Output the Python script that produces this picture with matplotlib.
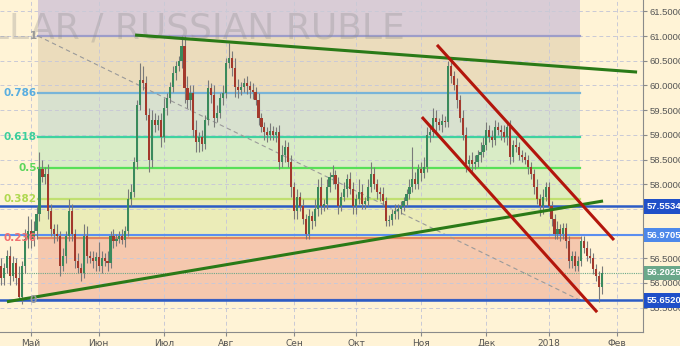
import numpy as np
import pandas as pd
import matplotlib
matplotlib.use('Agg')
import matplotlib.pyplot as plt
import matplotlib.transforms as mtransforms

# daily closes, USD/RUB (Apr 17 2017 .. Jan 25 2018, business days)
first_open = 56.35
closes = [
    56.10, 56.30, 56.55, 56.15, 56.40, 56.10, 55.72, 56.35, 56.90, 57.05,
    56.90, 57.05, 57.40, 58.30, 58.15, 58.20, 57.45, 57.10, 57.00, 56.95,
    56.35, 56.55, 56.95, 57.45, 57.00, 56.45, 56.30, 56.20, 56.95, 56.55,
    56.50, 56.45, 56.52, 56.35, 56.50, 56.45, 56.40, 56.95, 56.85, 56.90,
    56.95, 56.88, 57.05, 57.70, 57.85, 58.45, 59.60, 60.10, 60.05, 59.40,
    58.50, 59.30, 59.20, 59.30, 58.95, 59.55, 59.75, 59.97, 60.25, 60.40,
    60.50, 60.80, 59.95, 59.70, 59.85, 59.10, 58.85, 58.95, 58.82, 59.30,
    59.95, 59.80, 59.35, 59.45, 59.75, 59.85, 60.45, 60.55, 60.35, 59.97,
    59.90, 59.97, 60.05, 59.98, 59.90, 59.87, 59.70, 59.35, 59.15, 59.05,
    59.00, 59.08, 59.00, 59.05, 58.45, 58.60, 58.75, 58.45, 57.95, 57.45,
    57.75, 57.55, 57.30, 57.00, 57.35, 57.25, 57.50, 57.95, 57.55, 57.60,
    57.95, 58.15, 58.18, 58.00, 57.55, 57.75, 57.90, 58.10, 57.90, 57.55,
    57.70, 57.85, 57.60, 57.65, 57.95, 58.20, 58.00, 57.85, 57.80, 57.65,
    57.25, 57.28, 57.40, 57.45, 57.50, 57.55, 57.65, 57.80, 57.95, 58.10,
    58.00, 58.30, 58.22, 58.35, 59.00, 59.05, 59.35, 59.25, 59.20, 59.28,
    59.25, 60.40, 60.20, 60.00, 59.70, 59.35, 59.00, 58.40, 58.50, 58.40,
    58.45, 58.60, 58.65, 58.80, 59.10, 58.95, 58.90, 59.15, 59.10, 59.05,
    58.95, 59.15, 58.55, 58.80, 58.75, 58.60, 58.55, 58.50, 58.35, 58.20,
    57.95, 57.70, 57.55, 57.75, 57.95, 57.55, 57.30, 57.00, 57.10, 57.00,
    57.12, 56.85, 56.45, 56.55, 56.35, 56.45, 56.85, 56.70, 56.55, 56.50,
    56.28, 56.15, 55.92, 56.2025,
]
up_wick = [
    .15, .10, .12, .20, .15, .10, .25, .10, .20, .30,
    .25, .20, .15, .35, .20, .15, .20, .15, .10, .20,
    .10, .15, .10, .25, .15, .10, .15, .10, .25, .20,
    .10, .15, .10, .30, .15, .10, .20, .10, .15, .10,
    .10, .15, .10, .20, .15, .10, .10, .35, .30, .15,
    .15, .20, .15, .10, .15, .20, .10, .10, .15, .10,
    .10, .20, .20, .25, .15, .15, .20, .10, .15, .10,
    .15, .10, .20, .15, .10, .15, .10, .30, .15, .20,
    .15, .10, .10, .15, .10, .15, .10, .15, .10, .10,
    .10, .15, .10, .10, .15, .20, .15, .10, .15, .10,
    .15, .10, .15, .10, .15, .10, .20, .15, .20, .10,
    .15, .10, .20, .10, .15, .10, .15, .10, .15, .15,
    .10, .25, .15, .10, .15, .25, .15, .10, .10, .15,
    .10, .10, .10, .15, .10, .10, .10, .10, .15, .65,
    .15, .10, .15, .20, .15, .10, .20, .15, .10, .15,
    .10, .10, .10, .10, .15, .10, .15, .15, .10, .15,
    .15, .10, .20, .15, .15, .10, .15, .15, .10, .10,
    .15, .10, .15, .10, .15, .10, .10, .10, .10, .10,
    .10, .15, .10, .15, .10, .10, .10, .10, .15, .10,
    .10, .10, .10, .10, .10, .10, .10, .10, .15, .15,
    .10, .10, .10, .15,
]
dn_wick = [
    .15, .15, .10, .20, .10, .15, .07, .15, .15, .20,
    .20, .15, .15, .15, .10, .15, .15, .15, .20, .10,
    .20, .10, .15, .10, .15, .15, .10, .15, .10, .15,
    .10, .15, .20, .10, .15, .10, .15, .10, .15, .10,
    .10, .10, .15, .10, .15, .10, .15, .10, .15, .10,
    .25, .15, .15, .10, .20, .10, .15, .10, .10, .15,
    .10, .15, .30, .15, .20, .15, .20, .20, .15, .10,
    .10, .15, .20, .10, .10, .15, .10, .10, .15, .20,
    .15, .10, .10, .15, .15, .15, .10, .15, .10, .15,
    .15, .10, .10, .15, .15, .10, .15, .10, .20, .15,
    .15, .10, .10, .10, .10, .15, .10, .15, .15, .10,
    .10, .10, .15, .10, .15, .10, .10, .15, .10, .15,
    .15, .10, .10, .10, .10, .10, .10, .15, .15, .10,
    .10, .10, .10, .10, .15, .10, .10, .10, .10, .10,
    .10, .10, .15, .10, .10, .15, .10, .20, .10, .15,
    .10, .10, .15, .10, .15, .10, .10, .15, .10, .15,
    .10, .10, .15, .10, .10, .10, .15, .10, .10, .15,
    .10, .15, .15, .10, .10, .10, .10, .10, .15, .10,
    .15, .10, .20, .15, .10, .10, .15, .10, .10, .15,
    .10, .15, .15, .15, .10, .10, .10, .10, .10, .10,
    .10, .10, .30, .15,
]

dates = pd.bdate_range('2017-04-17', periods=225)
month_names = ['Май', 'Июн', 'Июл', 'Авг', 'Сен', 'Окт', 'Ноя', 'Дек', '2018', 'Фев']

# fibonacci retracement
fib_high = 61.0
fib_low = 55.652
fib_ratios = [1, 0.786, 0.618, 0.5, 0.382, 0.236, 0]
fib_labels = ['1', '0.786', '0.618', '0.5', '0.382', '0.236', '0']
fib_start, fib_end = 12.5, 195.6

# horizontal levels + last price
levels = [57.5534, 56.9705, 55.6520]
last_price = 56.2025

# trend lines (bar index, price)
green_top = ([45.3, 214.9], [61.02, 60.27])
green_bottom = ([2.0, 203.4], [55.62, 57.66])
red_upper = ([147.3, 207.1], [60.82, 56.87])
red_lower = ([142.2, 201.4], [59.36, 55.41])

bg = '#fff3d6'
zone_colors = ['#d9ccd6', '#ebdcbc', '#d8e1cf', '#d9ecc6', '#dfedc0', '#ebecb8', '#f5c8ae']
line_colors = ['#9d9dc9', '#78b4d8', '#3fd2a0', '#58e058', '#c0e070', '#e3865f', '#7070b8']
label_colors = ['#999999', '#5aaee0', '#3ccf9c', '#5cd65c', '#b0d850', '#f07070', '#999999']
narrow = ['Liberation Sans Narrow', 'Liberation Sans', 'DejaVu Sans']

fig = plt.figure(figsize=(6.8, 3.46), dpi=100, facecolor=bg)
ax = fig.add_axes([0, 14 / 346, 643 / 680, 332 / 346])
ax.set_facecolor(bg)
ax.set_xlim(-0.34, 216.9)
ax.set_ylim(55.008, 61.729)

# fib zones
fib_vals = [fib_low + r * (fib_high - fib_low) for r in fib_ratios]
tops = [61.729] + fib_vals[:-1]
bots = fib_vals
for t, b, c in zip(tops, bots, zone_colors):
    ax.fill_between([fib_start, fib_end], b, t, color=c, lw=0, zorder=0)
for v, c, lab, lc in zip(fib_vals, line_colors, fib_labels, label_colors):
    ax.plot([fib_start, fib_end], [v, v], color=c, lw=1.6, zorder=1)
    ax.text(fib_start - 0.4, v, lab, color=lc, fontsize=7.5, fontweight='bold',
            ha='right', va='center', zorder=6)
ax.plot([fib_start, fib_end], [fib_high, fib_low], color='#9a9a9a', lw=0.8,
        dashes=(4, 3), zorder=2)

# grid
ticks = [i for i in range(1, len(dates)) if dates[i].month != dates[i - 1].month]
ticks = [t for t in ticks if t < 216.9]
ax.set_xticks(ticks)
ax.set_xticklabels(month_names[:len(ticks)])
yt = np.arange(55.5, 61.51, 0.5)
ax.set_yticks(yt)
ax.set_yticklabels(['%.4f' % v for v in yt])
ax.grid(True, color='#c9c9d6', lw=0.7, dashes=(4, 3), zorder=1)
ax.set_axisbelow(True)

# levels
ax.axhline(levels[0], color='#2c5cc5', lw=1.8, zorder=2)
ax.axhline(levels[1], color='#5b8ef0', lw=1.5, zorder=2)
ax.axhline(levels[2], color='#2c5cc5', lw=1.8, zorder=2)
ax.axhline(last_price, color='#6aa88a', lw=0.8, ls=(0, (1, 1)), zorder=2)

# candles
idx = np.arange(len(closes))
c = np.array(closes)
o = np.array([first_open] + closes[:-1])
hi = np.maximum(o, c) + np.array(up_wick)
lo = np.minimum(o, c) - np.array(dn_wick)
ax.vlines(idx, lo, hi, color='#7a7a7a', lw=0.8, zorder=3)
col = np.where(c >= o, '#3a8a5c', '#a3392c')
h = np.maximum(np.abs(c - o), 0.02)
ax.bar(idx, h, bottom=np.minimum(o, c), width=0.72, color=col, lw=0, zorder=4)

# trend lines
for (xs, ys), cc in [(green_top, '#2a7a17'), (green_bottom, '#2a7a17'),
                     (red_upper, '#b3160c'), (red_lower, '#b3160c')]:
    ax.plot(xs, ys, color=cc, lw=2.2, solid_capstyle='butt', zorder=5)

# watermark
ax.text(405 / 643, 1 - 29 / 332, 'U.S. DOLLAR / RUSSIAN RUBLE', transform=ax.transAxes,
        fontsize=26, color='#8c8c8c', alpha=0.3, ha='right', va='center',
        zorder=2, clip_on=True)

# axes styling
for s in ['top', 'left']:
    ax.spines[s].set_visible(False)
ax.spines['right'].set_color('#8a8a8a')
ax.spines['bottom'].set_color('#8a8a8a')
ax.yaxis.tick_right()
ax.tick_params(axis='y', colors='#8a8a8a', labelcolor='#555555', labelsize=6.8,
               length=3, pad=2)
ax.tick_params(axis='x', colors='#8a8a8a', labelcolor='#555555', labelsize=6.5,
               length=3, pad=2)
for lab in ax.get_yticklabels():
    lab.set_family(narrow)

# price tags
trans = mtransforms.blended_transform_factory(ax.transAxes, ax.transData)
tag_colors = ['#1f4fc8', '#4d88ea', '#1f4fc8']
for v, tc in zip(levels, tag_colors):
    ax.text(1.006, v, '%.4f' % v, transform=trans, color='white', fontsize=6.8,
            family=narrow, fontweight='bold', ha='left', va='center',
            clip_on=False, zorder=10,
            bbox=dict(boxstyle='square,pad=0.3', fc=tc, ec='none'))
ax.text(1.006, last_price, '%.4f' % last_price, transform=trans, color='white',
        fontsize=6.8, family=narrow, fontweight='bold', ha='left', va='center',
        clip_on=False, zorder=10,
        bbox=dict(boxstyle='square,pad=0.3', fc='#6aa88a', ec='none'))

fig.savefig('out.png', dpi=100, facecolor=bg)
